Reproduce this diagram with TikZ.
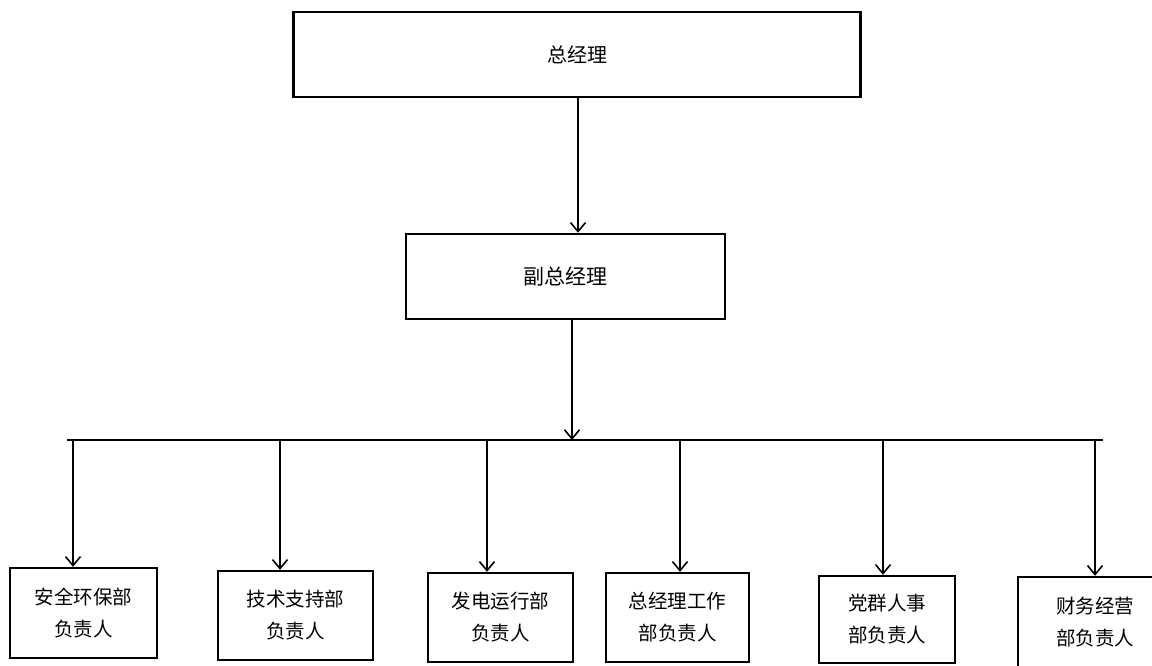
\documentclass[tikz,border=0pt]{standalone}
\usepackage{fontspec}
\newfontfamily\cjk{Noto Sans CJK SC}
\usetikzlibrary{arrows.meta}
\tikzset{
  box/.style={draw, line width=2.4pt, inner sep=0pt, align=center,
    font=\cjk\fontsize{19.5}{32}\selectfont},
  arr/.style={line width=1.6pt,
    -{Straight Barb[length=9pt,width=15pt,line width=1.6pt]}}
}
\begin{document}
\begin{tikzpicture}[x=1pt,y=-1pt]
      \useasboundingbox[fill=white] (0,0) rectangle (1152,665);
      \draw
        (577,54.5) node[box, minimum width=567pt, minimum height=85pt, font=\cjk\fontsize{20}{24}\selectfont] (gm){总经理}
        (565.5,276.5) node[box, minimum width=319pt, minimum height=85pt, font=\cjk\fontsize{21}{24}\selectfont] (dgm){副总经理}
        (83.5,613) node[box, minimum width=147pt, minimum height=90pt] (b1){安全环保部\\负责人}
        (295.5,615.5) node[box, minimum width=155pt, minimum height=89pt] (b2){技术支持部\\负责人}
        (500.5,617.5) node[box, minimum width=145pt, minimum height=89pt] (b3){发电运行部\\负责人}
        (677.5,617.5) node[box, minimum width=143pt, minimum height=89pt] (b4){总经理工作\\部负责人}
        (887,619.5) node[box, minimum width=136pt, minimum height=87pt] (b5){党群人事\\部负责人}
        (1095,622) node[box, minimum width=154pt, minimum height=90pt] (b6){财务经营\\部负责人};
      \coordinate (gmx) at (578,0);
      \coordinate (dgmx) at (572,0);
      \coordinate (busl) at (67,440);
      \coordinate (busr) at (1103,440);
      \coordinate (t1) at (73,440);
      \coordinate (t2) at (280,440);
      \coordinate (t3) at (487,440);
      \coordinate (t4) at (680,440);
      \coordinate (t5) at (883,440);
      \coordinate (t6) at (1095,440);
      \begin{scope}[arr]
        \draw (gm.south -| gmx) to (dgm.north -| gmx);
        \draw (dgm.south -| dgmx) to (busl -| dgmx);
        \draw (t1) to (t1 |- b1.north);
        \draw (t2) to (t2 |- b2.north);
        \draw (t3) to (t3 |- b3.north);
        \draw (t4) to (t4 |- b4.north);
        \draw (t5) to (t5 |- b5.north);
        \draw (t6) to (t6 |- b6.north);
      \end{scope}
      \draw[line width=2pt] (busl) -- (busr);
    \end{tikzpicture}
\end{document}
